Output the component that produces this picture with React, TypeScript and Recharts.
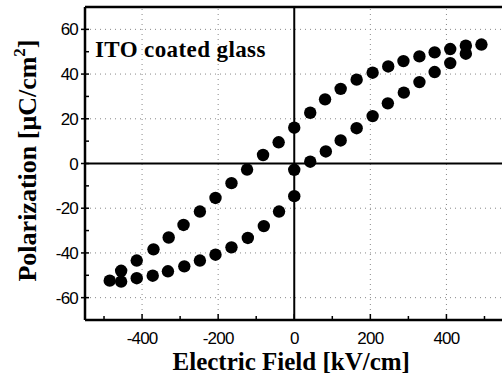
import React from "react";
import {
  ScatterChart,
  Scatter,
  XAxis,
  YAxis,
  ReferenceLine,
} from "recharts";

// Descending branch (from +E max to -E max)
const fieldDown = [492, 451, 410, 369, 329, 287, 247, 206, 164, 122, 81, 42, 0, -41, -82, -124, -165, -207, -248, -291, -330, -370, -414, -455, -485];
const polDown = [53.2, 52.7, 51.2, 49.7, 47.9, 45.8, 43.4, 40.6, 37.5, 33.4, 28.7, 22.7, 16.0, 9.5, 3.8, -2.7, -8.8, -15.4, -21.5, -27.5, -33.1, -38.4, -43.4, -48.0, -52.4];

// Ascending branch (from -E max to +E max)
const fieldUp = [-455, -414, -372, -332, -289, -248, -207, -165, -122, -80, -40, 0, 0, 42, 83, 122, 164, 206, 246, 288, 329, 369, 410, 451];
const polUp = [-52.8, -51.3, -50.2, -48.2, -46.0, -43.4, -40.8, -37.5, -33.3, -28.0, -21.5, -14.6, -2.8, 0.8, 5.4, 10.3, 15.8, 21.2, 26.9, 31.7, 36.4, 40.9, 44.9, 49.1];

const xTicks = [-500, -400, -300, -200, -100, 0, 100, 200, 300, 400, 500];
const yTicks = [-60, -50, -40, -30, -20, -10, 0, 10, 20, 30, 40, 50, 60];
const xGrid = [-400, -200, 200, 400];
const yGrid = [-60, -40, -20, 20, 40, 60];

const xTitle = "Electric Field [kV/cm]";
const yTitle = "Polarization [μC/cm";
const annotation = "ITO coated glass";

const downData = fieldDown.map((x, i) => ({ x, y: polDown[i] }));
const upData = fieldUp.map((x, i) => ({ x, y: polUp[i] }));

const serif = "'Liberation Serif', 'Times New Roman', serif";
const sans = "'Liberation Sans', Arial, sans-serif";

const XTick = (props: any) => {
  const { x, y, payload } = props;
  const v = payload.value;
  const major = v % 200 === 0;
  return (
    <g>
      <line x1={x} x2={x} y1={y} y2={y - (major ? 6 : 4)} stroke="#000" strokeWidth={1.5} />
      {major && (
        <text x={x} y={y + 24} textAnchor="middle" fontFamily={sans} fontSize={17} fill="#000" letterSpacing={-0.8}>
          {v}
        </text>
      )}
    </g>
  );
};

const YTick = (props: any) => {
  const { x, y, payload } = props;
  const v = payload.value;
  const major = v % 20 === 0;
  return (
    <g>
      <line x1={major ? x - 4 : x} x2={x + 4} y1={y} y2={y} stroke="#000" strokeWidth={1.5} />
      {major && (
        <text x={x - 7} y={y + 6} textAnchor="end" fontFamily={sans} fontSize={17} fill="#000" letterSpacing={-0.8}>
          {v}
        </text>
      )}
    </g>
  );
};

const Dot = (props: any) => <circle cx={props.cx} cy={props.cy} r={6.2} fill="#000" />;

export default function App() {
  return (
    <div style={{ position: "absolute", left: 0, top: 0, width: 502, height: 379, overflow: "hidden", background: "#fff" }}>
      <ScatterChart width={506} height={379} margin={{ top: 7, right: 2.5, bottom: 0, left: 0 }}>
        <XAxis
          dataKey="x"
          type="number"
          domain={[-550, 550]}
          ticks={xTicks}
          interval={0}
          height={59}
          tickSize={0}
          tickMargin={0}
          tickLine={false}
          tick={<XTick />}
          axisLine={{ stroke: "#000", strokeWidth: 2.5 }}
          label={{
            content: (p: any) => {
              const vb = p.viewBox;
              return (
                <text x={vb.x + vb.width / 2 - 3} y={vb.y + 50} textAnchor="middle" fontFamily={serif} fontWeight="bold" fontSize={25} fill="#000">
                  {xTitle}
                </text>
              );
            },
          }}
        />
        <YAxis
          dataKey="y"
          type="number"
          domain={[-70, 70]}
          ticks={yTicks}
          interval={0}
          width={85}
          tickSize={0}
          tickMargin={0}
          tickLine={false}
          tick={<YTick />}
          axisLine={{ stroke: "#000", strokeWidth: 2.5 }}
          label={{
            content: (p: any) => {
              const vb = p.viewBox;
              const cx = vb.x + 36;
              const cy = vb.y + vb.height / 2 - 3;
              return (
                <text x={cx} y={cy} transform={`rotate(-90, ${cx}, ${cy})`} textAnchor="middle" fontFamily={serif} fontWeight="bold" fontSize={26} fill="#000">
                  {yTitle}
                  <tspan dy={-11} fontSize={17}>2</tspan>
                  <tspan dy={11}>]</tspan>
                </text>
              );
            },
          }}
        />
        {xGrid.map((v) => (
          <ReferenceLine key={`gx${v}`} x={v} stroke="#888" strokeDasharray="1 4" strokeWidth={1} />
        ))}
        {yGrid.map((v) => (
          <ReferenceLine key={`gy${v}`} y={v} stroke="#888" strokeDasharray="1 4" strokeWidth={1} />
        ))}
        <ReferenceLine x={0} stroke="#000" strokeWidth={2} />
        <ReferenceLine y={0} stroke="#000" strokeWidth={2} />
        <ReferenceLine
          y={70}
          stroke="#000"
          strokeWidth={2.5}
          label={{
            content: (p: any) => {
              const vb = p.viewBox;
              return (
                <text x={vb.x + 10} y={vb.y + 50} fontFamily={serif} fontWeight="bold" fontSize={23} fill="#000" letterSpacing={0.4}>
                  {annotation}
                </text>
              );
            },
          }}
        />
        <Scatter data={downData} fill="#000" shape={<Dot />} isAnimationActive={false} />
        <Scatter data={upData} fill="#000" shape={<Dot />} isAnimationActive={false} />
      </ScatterChart>
    </div>
  );
}
